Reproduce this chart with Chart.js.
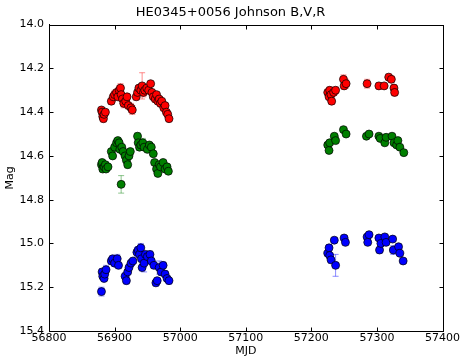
<!DOCTYPE html>
<html>
<head>
<meta charset="utf-8">
<script src="https://cdn.jsdelivr.net/npm/chart.js@4"></script>
<style>
  html, body { margin: 0; padding: 0; background: #fff; }
  #wrap { width: 461px; height: 358px; }
</style>
</head>
<body>
<div id="wrap"><canvas id="lc" width="461" height="358"></canvas></div>
<script>
// R band
const rMjd = [56880,56881,56882,56883,56884,56886,56895,56898,56900,56903,56905,56907,56909,56910,56912,56914,56917,56919,56921,56925,56927,
  56933,56935,56937,56940,56942,56944,56946,56949,56952,56955,56957,56959,56962,56964,56966,56968,56970,56972,56975,56977,56979,56981,56983,
  57225,57227,57228,57230,57231,57234,57237,57249,57250,57253,57285,57303,57311,57318,57322,57326,57327];
const rMag = [14.39,14.40,14.42,14.43,14.41,14.40,14.35,14.33,14.32,14.31,14.33,14.30,14.29,14.32,14.34,14.36,14.35,14.33,14.37,14.38,14.39,
  14.33,14.31,14.29,14.30,14.28,14.31,14.30,14.29,14.30,14.27,14.31,14.33,14.34,14.32,14.35,14.34,14.36,14.35,14.38,14.37,14.40,14.41,14.43,
  14.31,14.33,14.30,14.32,14.35,14.31,14.30,14.25,14.28,14.27,14.27,14.28,14.28,14.24,14.25,14.29,14.31];
const rErr = [0.01,0.015,0.01,0.015,0.01,0.01,0.015,0.01,0.02,0.01,0.015,0.02,0.02,0.015,0.02,0.02,0.015,0.01,0.015,0.02,0.02,
  0.015,0.01,0.01,0.015,0.06,0.02,0.015,0.01,0.015,0.01,0.015,0.01,0.015,0.01,0.015,0.01,0.015,0.01,0.015,0.01,0.01,0.015,0.01,
  0.015,0.01,0.015,0.02,0.015,0.01,0.015,0.02,0.015,0.02,0.02,0.015,0.01,0.015,0.015,0.015,0.015];

// V band
const vMjd = [56880,56881,56882,56884,56886,56887,56890,56895,56897,56900,56903,56905,56907,56908,56910,56911,56913,56916,56918,56920,56922,56924,
  56935,56936,56938,56940,56943,56945,56950,56953,56956,56959,56961,56964,56966,56968,56970,56974,56977,56980,56982,
  57225,57227,57228,57235,57237,57249,57253,57284,57288,57303,57305,57312,57314,57323,57326,57330,57332,57335,57341];
const vMag = [14.64,14.63,14.66,14.65,14.64,14.66,14.65,14.58,14.60,14.56,14.54,14.53,14.54,14.57,14.73,14.56,14.58,14.60,14.62,14.64,14.60,14.58,
  14.51,14.54,14.56,14.55,14.54,14.56,14.57,14.55,14.56,14.59,14.63,14.66,14.68,14.64,14.65,14.63,14.66,14.65,14.67,
  14.55,14.575,14.54,14.51,14.53,14.48,14.50,14.51,14.50,14.51,14.52,14.54,14.515,14.51,14.54,14.55,14.53,14.56,14.585];
const vErr = [0.01,0.01,0.015,0.01,0.01,0.01,0.01,0.01,0.01,0.015,0.02,0.01,0.015,0.01,0.04,0.01,0.015,0.015,0.01,0.015,0.01,0.01,
  0.015,0.01,0.015,0.01,0.02,0.01,0.015,0.01,0.015,0.01,0.01,0.015,0.01,0.015,0.01,0.01,0.015,0.01,0.01,
  0.01,0.01,0.01,0.01,0.01,0.01,0.01,0.01,0.01,0.01,0.01,0.01,0.01,0.01,0.01,0.01,0.01,0.01,0.01];

// B band
const bMjd = [56880,56881,56882,56884,56885,56887,56895,56897,56900,56904,56906,56916,56918,56920,56922,56925,56928,56934,56936,56938,56940,56941,
  56942,56945,56947,56950,56954,56956,56960,56963,56965,56968,56971,56974,56977,56980,56983,
  57225,57227,57228,57230,57235,57237,57250,57252,57285,57288,57286,57303,57304,57306,57312,57314,57324,57325,57333,57335,57340];
const bMag = [15.22,15.13,15.15,15.16,15.14,15.12,15.08,15.07,15.09,15.07,15.10,15.15,15.17,15.13,15.11,15.09,15.08,15.04,15.03,15.05,15.02,15.07,
  15.11,15.09,15.05,15.06,15.05,15.08,15.10,15.18,15.17,15.11,15.13,15.10,15.14,15.16,15.17,
  15.045,15.02,15.055,15.075,14.985,15.10,14.975,14.995,14.97,14.96,14.995,14.975,15.03,15.00,14.97,14.995,14.98,15.03,15.015,15.045,15.08];
const bErr = [0.02,0.015,0.015,0.01,0.015,0.02,0.015,0.01,0.015,0.02,0.015,0.015,0.015,0.01,0.015,0.015,0.01,0.02,0.015,0.015,0.02,0.015,
  0.015,0.04,0.015,0.01,0.015,0.015,0.015,0.015,0.01,0.03,0.015,0.015,0.015,0.01,0.015,
  0.01,0.015,0.01,0.015,0.01,0.05,0.01,0.01,0.01,0.01,0.01,0.01,0.015,0.01,0.01,0.01,0.01,0.02,0.01,0.01,0.01];

const xTicks = [56800, 56900, 57000, 57100, 57200, 57300, 57400];
const yTicks = [14.0, 14.2, 14.4, 14.6, 14.8, 15.0, 15.2, 15.4];

function toPoints(mjd, mag, err) {
  return mjd.map((m, i) => ({ x: m, y: mag[i], e: err[i] }));
}

// box with inward ticks, then error bars with caps, all under the markers
const errorBars = {
  id: 'errorBars',
  beforeDatasetsDraw(chart) {
    const ctx = chart.ctx;
    const a = chart.chartArea;
    const x = chart.scales.x, y = chart.scales.y;
    ctx.save();
    ctx.strokeStyle = '#000';
    ctx.lineWidth = 1;
    const l = Math.round(a.left) + 0.5, r = Math.round(a.right) + 0.5;
    const t = Math.round(a.top) + 0.5, b = Math.round(a.bottom) + 0.5;
    ctx.strokeRect(l, t, r - l, b - t);
    ctx.beginPath();
    xTicks.forEach(v => {
      const px = Math.round(x.getPixelForValue(v)) + 0.5;
      ctx.moveTo(px, b); ctx.lineTo(px, b - 4);
      ctx.moveTo(px, t); ctx.lineTo(px, t + 4);
    });
    yTicks.forEach(v => {
      const py = Math.round(y.getPixelForValue(v)) + 0.5;
      ctx.moveTo(l, py); ctx.lineTo(l + 4, py);
      ctx.moveTo(r, py); ctx.lineTo(r - 4, py);
    });
    ctx.stroke();

    chart.data.datasets.forEach(ds => {
      ctx.strokeStyle = ds.errColor;
      ds.data.forEach(p => {
        const px = x.getPixelForValue(p.x);
        const y1 = y.getPixelForValue(p.y - p.e);
        const y2 = y.getPixelForValue(p.y + p.e);
        ctx.beginPath();
        ctx.moveTo(px, y1); ctx.lineTo(px, y2);
        ctx.moveTo(px - 3, y1); ctx.lineTo(px + 3, y1);
        ctx.moveTo(px - 3, y2); ctx.lineTo(px + 3, y2);
        ctx.stroke();
      });
    });
    ctx.restore();
  }
};

Chart.defaults.font.family = 'DejaVu Sans';
Chart.defaults.color = '#000';

new Chart(document.getElementById('lc'), {
  type: 'scatter',
  data: {
    datasets: [
      { label: 'R', data: toPoints(rMjd, rMag, rErr), backgroundColor: '#ff0000', borderColor: '#000', errColor: 'rgba(255,0,0,0.45)' },
      { label: 'V', data: toPoints(vMjd, vMag, vErr), backgroundColor: '#007f00', borderColor: '#000', errColor: 'rgba(0,127,0,0.45)' },
      { label: 'B', data: toPoints(bMjd, bMag, bErr), backgroundColor: '#0000ff', borderColor: '#000', errColor: 'rgba(0,0,255,0.45)' }
    ]
  },
  options: {
    responsive: false,
    animation: false,
    elements: { point: { radius: 4, borderWidth: 0.7 } },
    plugins: {
      legend: { display: false },
      tooltip: { enabled: false },
      title: {
        display: true,
        text: 'HE0345+0056 Johnson B,V,R',
        font: { size: 13, weight: 'normal' },
        padding: { top: 5, bottom: 4 }
      }
    },
    scales: {
      x: {
        min: xTicks[0], max: xTicks[xTicks.length - 1],
        ticks: { stepSize: 100, font: { size: 11 }, padding: 1, maxRotation: 0, callback: v => String(v) },
        grid: { drawOnChartArea: false, drawTicks: false, color: '#000' },
        border: { display: true, color: '#000' },
        title: { display: true, text: 'MJD', font: { size: 11 }, padding: 0 },
        afterFit: s => { s.height = 27; }
      },
      y: {
        reverse: true,
        min: yTicks[0], max: yTicks[yTicks.length - 1],
        ticks: { stepSize: 0.2, font: { size: 11 }, padding: 5, callback: v => v.toFixed(1) },
        grid: { drawOnChartArea: false, drawTicks: false, color: '#000' },
        border: { display: true, color: '#000' },
        title: { display: true, text: 'Mag', font: { size: 11 }, padding: { top: 4, bottom: 0 } },
        afterFit: s => { s.width = 49; }
      }
    }
  },
  plugins: [errorBars]
});
</script>
</body>
</html>
